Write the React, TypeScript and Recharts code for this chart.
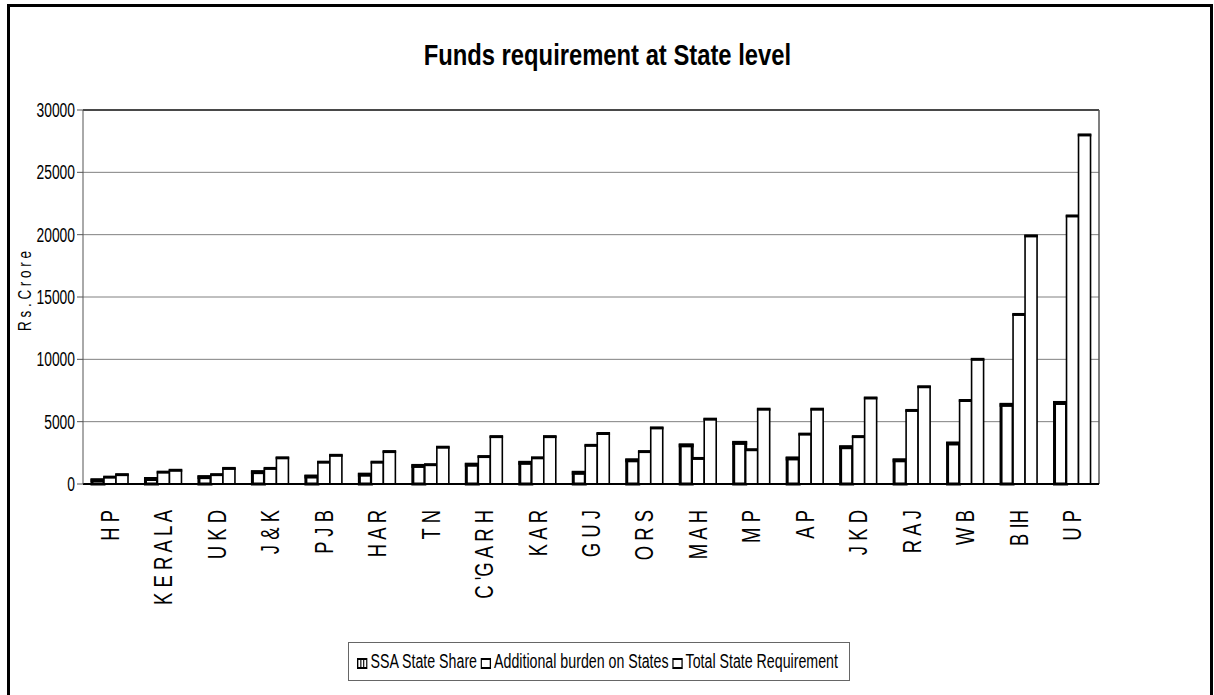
import React from "react";
import {
  BarChart, Bar, XAxis, YAxis, CartesianGrid, ReferenceLine,
} from "recharts";

// states, in the order shown (labels keep the spaced-out look of the original)
const states = [
  "H P", "K E R A L A", "U K D", "J & K", "P J B", "H A R", "T N", "C 'G A R H",
  "K A R", "G U J", "O R S", "M A H", "M P", "A P", "J K D", "R A J", "W B", "B IH", "U P",
];

// Rs. crore
const ssaShare = [300, 400, 550, 950, 600, 750, 1450, 1550, 1700, 900, 1900, 3100, 3300, 2050, 2950, 1900, 3250, 6350, 6500];
const additionalBurden = [550, 950, 750, 1250, 1750, 1750, 1550, 2200, 2100, 3100, 2600, 2050, 2750, 4000, 3800, 5900, 6700, 13600, 21500];
const totalRequirement = [750, 1100, 1250, 2100, 2300, 2600, 2950, 3800, 3800, 4050, 4500, 5200, 6000, 6000, 6900, 7800, 10000, 19900, 28000];

const yTicks = [0, 5000, 10000, 15000, 20000, 25000, 30000];
const edgeTicks = states.map((_, i) => i).concat(states.length);

const series = [
  { key: "ssa", name: "SSA State Share", side: 3, top: 4, striped: true },
  { key: "additional", name: "Additional burden on States", side: 1.6, top: 3, striped: false },
  { key: "total", name: "Total State Requirement", side: 1.6, top: 3, striped: false },
];

const data = states.map((s, i) => ({
  state: s,
  ssa: ssaShare[i],
  additional: additionalBurden[i],
  total: totalRequirement[i],
}));

// no Arial Narrow here, so squeeze Liberation Sans (Arial metrics) horizontally
const SANS = "'Liberation Sans', Arial, sans-serif";
const NARROW = 0.82; // title
const TALL = 0.71;   // the tall, thin axis / legend text

// white bar, black outline, heavier top edge like the old Excel look
const outlined = (side: number, top: number) => (props: any) => {
  const { x, y, width, height } = props;
  if (!height || height <= 0) return <g />;
  return (
    <g>
      <rect x={x} y={y} width={width} height={height} fill="#fff" stroke="#000" strokeWidth={side} />
      <line x1={x - side / 2} x2={x + width + side / 2} y1={y} y2={y} stroke="#000" strokeWidth={top} />
    </g>
  );
};

const StateTick = (props: any) => {
  const { x, y, payload } = props;
  return (
    <text
      transform={`translate(${x}, ${y + 18}) rotate(-90) scale(0.74, 1)`}
      textAnchor="end"
      dy="0.36em"
      fontSize={25}
      fontFamily={SANS}
      fill="#000"
    >
      {payload.value}
    </text>
  );
};

const ValueTick = (props: any) => {
  const { x, y, payload } = props;
  return (
    <text
      transform={`translate(${x}, ${y}) scale(${TALL}, 1)`}
      textAnchor="end"
      dy="0.36em"
      fontSize={19.5}
      fontFamily={SANS}
      fill="#000"
    >
      {payload.value}
    </text>
  );
};

const LegendIcon = ({ striped }: { striped: boolean }) => (
  <svg width={15} height={11} style={{ marginRight: 4, verticalAlign: "-1px" }}>
    <rect x={1} y={1} width={13} height={9} fill="#fff" stroke="#000" strokeWidth={2} />
    {striped && (
      <>
        <line x1={5.5} x2={5.5} y1={1} y2={10} stroke="#000" strokeWidth={1.6} />
        <line x1={9.5} x2={9.5} y1={1} y2={10} stroke="#000" strokeWidth={1.6} />
      </>
    )}
  </svg>
);

export default function App() {
  return (
    <div style={{ position: "relative", width: 1214, height: 695, overflow: "hidden", background: "#fff" }}>
      <style>{"body{margin:0;overflow:hidden;}"}</style>
      <div
        style={{
          position: "absolute", left: 7, top: 4, width: 1206, height: 720,
          border: "3.5px solid #000", boxSizing: "border-box",
        }}
      />
      <div
        style={{
          position: "absolute", left: 0, top: 41, width: 1214, textAlign: "center",
          fontFamily: SANS, fontWeight: "bold", fontSize: 29, lineHeight: 1, color: "#000",
          transform: `scaleX(${NARROW})`, transformOrigin: "609px 0",
        }}
      >
        Funds requirement at State level
      </div>

      <BarChart
        width={1214}
        height={695}
        data={data}
        margin={{ top: 110, right: 115, left: 23, bottom: 91 }}
        barGap={0}
        barSize={12}
        style={{ position: "absolute", left: 0, top: 0 }}
      >
        <CartesianGrid vertical={false} stroke="#808080" strokeWidth={1} />
        <XAxis
          xAxisId="edges"
          type="number"
          dataKey={() => 0}
          domain={[0, states.length]}
          ticks={edgeTicks}
          height={0}
          axisLine={false}
          tickSize={8}
          tickLine={{ stroke: "#444" }}
          tick={() => <g />}
        />
        <XAxis
          dataKey="state"
          interval={0}
          height={120}
          tickLine={false}
          axisLine={{ stroke: "#000", strokeWidth: 2 }}
          tick={<StateTick />}
        />
        <YAxis
          domain={[0, 30000]}
          ticks={yTicks}
          interval={0}
          width={60}
          tickSize={6}
          axisLine={{ stroke: "#555" }}
          tickLine={{ stroke: "#555" }}
          tick={<ValueTick />}
          label={{
            content: (p: any) => {
              const vb = p.viewBox;
              const bx = vb.x + 8;
              const cy = vb.y + vb.height / 2 - 6;
              return (
                <text
                  transform={`translate(${bx}, ${cy}) rotate(-90) scale(${TALL}, 1)`}
                  textAnchor="middle"
                  fontSize={19}
                  fontFamily={SANS}
                  fill="#000"
                >
                  R s . C r o r e
                </text>
              );
            },
          }}
        />
        <ReferenceLine y={30000} stroke="#222" strokeWidth={1.5} />
        <ReferenceLine xAxisId="edges" x={states.length} stroke="#555" strokeWidth={1.5} />
        {series.map((s) => (
          <Bar
            key={s.key}
            dataKey={s.key}
            name={s.name}
            fill="#fff"
            stroke="#000"
            shape={outlined(s.side, s.top)}
            isAnimationActive={false}
          />
        ))}
      </BarChart>

      <div
        style={{
          position: "absolute", left: 348, top: 642, width: 502, height: 39,
          border: "1px solid #666", boxSizing: "border-box",
          display: "flex", alignItems: "center", justifyContent: "center",
          fontFamily: SANS, fontSize: 20, color: "#000", whiteSpace: "nowrap",
        }}
      >
        <div style={{ transform: `scaleX(${TALL})`, flexShrink: 0 }}>
          {series.map((s) => (
            <span key={s.key} style={{ marginRight: 5 }}>
              <LegendIcon striped={s.striped} />
              {s.name}
            </span>
          ))}
        </div>
      </div>
    </div>
  );
}
